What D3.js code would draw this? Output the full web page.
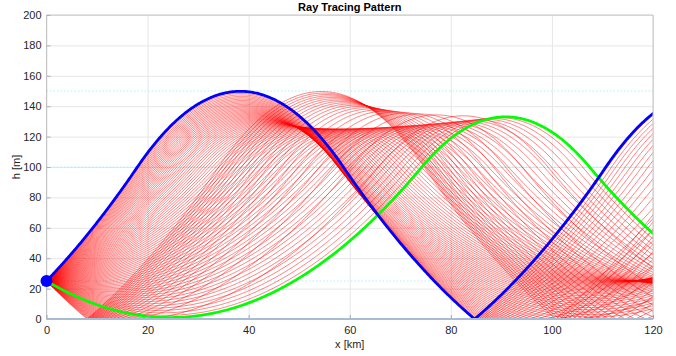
<!DOCTYPE html>
<html>
<head>
<meta charset="utf-8">
<script src="https://cdn.jsdelivr.net/npm/d3@7"></script>
<style>
  body { margin: 0; background: #fff; }
  svg { display: block; font-family: "Liberation Sans", Arial, sans-serif; }
  .tick text { fill: #262626; font-size: 11px; }
</style>
</head>
<body>
<div id="chart"></div>
<script>
// modified refractivity profile (M-units)
const profileHeights = [0, 100, 150, 300];
const profileM = [330, 338, 326, 343.7];
const layerLines = [25, 100, 150];

const sourceRange = 0;
const sourceHeight = 25;

// launch elevation angles of the fan, mrad
const launchAngles = [
  -3.44, -3.37, -3.30, -3.23, -3.16, -3.09, -3.02, -2.95, -2.88, -2.81,
  -2.74, -2.67, -2.60, -2.53, -2.46, -2.39, -2.32, -2.25, -2.18, -2.11,
  -2.04, -1.97, -1.90, -1.83, -1.76, -1.69, -1.62, -1.55, -1.48, -1.41,
  -1.34, -1.27, -1.20, -1.13, -1.06, -0.99, -0.92, -0.85, -0.78, -0.71,
  -0.64, -0.57, -0.50, -0.43, -0.36, -0.29, -0.22, -0.15, -0.08, -0.01,
  0.06, 0.13, 0.20, 0.27, 0.34, 0.41, 0.48, 0.55, 0.62, 0.69,
  0.76, 0.83, 0.90, 0.97, 1.04, 1.11, 1.18, 1.25, 1.32, 1.39,
  1.46, 1.53, 1.60, 1.67, 1.74, 1.81, 1.88, 1.95, 2.02, 2.09,
  2.16, 2.23, 2.30, 2.37, 2.44, 2.51, 2.58, 2.65, 2.72, 2.79,
  2.86, 2.93, 3.00, 3.07, 3.14, 3.21, 3.28, 3.35, 3.42
];
const blueAngle = 3.45;
const greenAngle = -1.96;

const xTicks = [0, 20, 40, 60, 80, 100, 120];
const yTicks = [0, 20, 40, 60, 80, 100, 120, 140, 160, 180, 200];

const W = 676, H = 356;
const plotLeft = 46.5, plotRight = 653, plotTop = 15, plotBottom = 319;

const x = d3.scaleLinear().domain([0, 120]).range([plotLeft, plotRight]);
const y = d3.scaleLinear().domain([0, 200]).range([plotBottom, plotTop]);
const mAt = d3.scaleLinear().domain(profileHeights).range(profileM);

function gradAt(h) {
  for (let i = 0; i < profileHeights.length - 2; i++) {
    if (h < profileHeights[i + 1]) {
      return (profileM[i + 1] - profileM[i]) / (profileHeights[i + 1] - profileHeights[i]);
    }
  }
  const n = profileHeights.length - 1;
  return (profileM[n] - profileM[n - 1]) / (profileHeights[n] - profileHeights[n - 1]);
}

// march a ray through the profile, ground is a mirror
function traceRay(angle) {
  const E = angle * angle - 2 * mAt(sourceHeight);
  const step = 0.02;
  let rx = sourceRange, h = sourceHeight, s = angle, n = 0;
  const pts = [[rx, h]];
  while (rx < 121) {
    const g = gradAt(h);
    let hn = h + s * step + 0.5 * g * step * step;
    let sn = s + g * step;
    if (hn < 0) {
      pts.push([rx + step * h / (h - hn), 0]);
      hn = -hn;
      sn = -sn;
    }
    const s2 = E + 2 * mAt(hn);
    if (s2 > 0.5) sn = Math.sign(sn) * Math.sqrt(s2);
    rx += step; h = hn; s = sn; n++;
    if (n % 10 === 0) pts.push([rx, h]);
  }
  return pts;
}

const svg = d3.select("#chart").append("svg").attr("width", W).attr("height", H);

svg.append("defs").append("clipPath").attr("id", "plot-clip")
  .append("rect").attr("x", plotLeft).attr("y", plotTop)
  .attr("width", plotRight - plotLeft).attr("height", plotBottom - plotTop);

// grid
svg.append("g")
  .attr("transform", `translate(0,${plotBottom})`)
  .call(d3.axisBottom(x).tickValues(xTicks).tickSize(-(plotBottom - plotTop)).tickFormat(""))
  .call(g => g.select(".domain").remove())
  .call(g => g.selectAll("line").attr("stroke", "#e6e6e6"));
svg.append("g")
  .attr("transform", `translate(${plotLeft},0)`)
  .call(d3.axisLeft(y).tickValues(yTicks).tickSize(-(plotRight - plotLeft)).tickFormat(""))
  .call(g => g.select(".domain").remove())
  .call(g => g.selectAll("line").attr("stroke", "#e6e6e6"));

const plot = svg.append("g").attr("clip-path", "url(#plot-clip)");

plot.selectAll("line.layer")
  .data(layerLines)
  .join("line")
  .attr("class", "layer")
  .attr("x1", x(0)).attr("x2", x(120))
  .attr("y1", d => y(d)).attr("y2", d => y(d))
  .attr("stroke", "#8ff2f2")
  .attr("stroke-width", 0.8)
  .attr("stroke-dasharray", "1.5,2");

const line = d3.line().x(d => x(d[0])).y(d => y(d[1]));

plot.selectAll("path.ray")
  .data(launchAngles)
  .join("path")
  .attr("class", "ray")
  .attr("d", d => line(traceRay(d)))
  .attr("fill", "none")
  .attr("stroke", "#ff0000")
  .attr("stroke-width", 0.5);

plot.append("path")
  .attr("d", line(traceRay(greenAngle)))
  .attr("fill", "none")
  .attr("stroke", "#00ff00")
  .attr("stroke-width", 2.7);

plot.append("path")
  .attr("d", line(traceRay(blueAngle)))
  .attr("fill", "none")
  .attr("stroke", "#0000ff")
  .attr("stroke-width", 2.8);

// box
svg.append("path")
  .attr("d", `M${plotLeft},${plotBottom}V${plotTop}H${plotRight}V${plotBottom}`)
  .attr("fill", "none")
  .attr("stroke", "#c4c4c4")
  .attr("stroke-width", 1);

// axes with inward ticks
svg.append("g")
  .attr("transform", `translate(0,${plotBottom})`)
  .call(d3.axisBottom(x).tickValues(xTicks).tickSizeInner(-4).tickSizeOuter(0).tickPadding(7))
  .call(g => g.select(".domain").remove())
  .call(g => g.selectAll(".tick line").attr("stroke", "#9aa8b8"));
svg.append("g")
  .attr("transform", `translate(${plotLeft},0)`)
  .call(d3.axisLeft(y).tickValues(yTicks).tickSizeInner(-4).tickSizeOuter(0).tickPadding(5))
  .call(g => g.select(".domain").remove())
  .call(g => g.selectAll(".tick line").attr("stroke", "#b0b0b0"));

// ground line
svg.append("line")
  .attr("x1", x(0)).attr("x2", x(120))
  .attr("y1", y(0)).attr("y2", y(0))
  .attr("stroke", "#a7bbd3")
  .attr("stroke-width", 2);

// source
svg.append("circle")
  .attr("cx", x(sourceRange)).attr("cy", y(sourceHeight))
  .attr("r", 6)
  .attr("fill", "#0000ff");

svg.append("text")
  .attr("x", (plotLeft + plotRight) / 2).attr("y", 11)
  .attr("text-anchor", "middle")
  .attr("font-size", 11).attr("font-weight", "bold")
  .attr("fill", "#000")
  .text("Ray Tracing Pattern");

svg.append("text")
  .attr("x", (plotLeft + plotRight) / 2).attr("y", 348)
  .attr("text-anchor", "middle")
  .attr("font-size", 11)
  .attr("fill", "#262626")
  .text("x [km]");

svg.append("text")
  .attr("transform", `translate(20,${(plotTop + plotBottom) / 2}) rotate(-90)`)
  .attr("text-anchor", "middle")
  .attr("font-size", 11)
  .attr("fill", "#262626")
  .text("h [m]");
</script>
</body>
</html>
